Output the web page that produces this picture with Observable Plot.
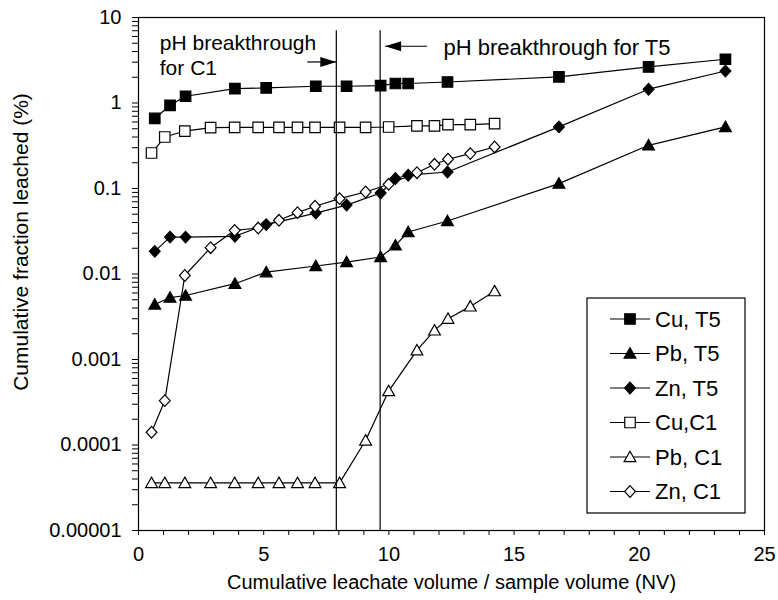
<!DOCTYPE html>
<html>
<head>
<meta charset="utf-8">
<script src="https://cdn.jsdelivr.net/npm/d3@7"></script>
<script src="https://cdn.jsdelivr.net/npm/@observablehq/plot@0.6"></script>
<style>
  body { margin: 0; background: #fff; }
  #chart { width: 778px; height: 600px; }
</style>
</head>
<body>
<div id="chart"></div>
<script>
// ---- data ----
const t5X = [0.65, 1.26, 1.88, 3.85, 5.1, 7.08, 8.31, 9.67, 10.26, 10.77, 12.34, 16.79, 20.37, 23.44];
const cuT5 = [0.66, 0.94, 1.2, 1.47, 1.5, 1.57, 1.57, 1.6, 1.69, 1.69, 1.76, 2.02, 2.64, 3.25];
const pbT5 = [0.0044, 0.0053, 0.0056, 0.0077, 0.0105, 0.0124, 0.0138, 0.0158, 0.0216, 0.031, 0.0417, 0.114, 0.32, 0.525];
const znT5 = [0.0184, 0.027, 0.027, 0.0276, 0.0378, 0.0516, 0.064, 0.0886, 0.131, 0.143, 0.156, 0.525, 1.45, 2.37];

const c1X = [0.52, 1.05, 1.85, 2.88, 3.84, 4.78, 5.61, 6.35, 7.05, 8.03, 9.07, 9.99, 11.12, 11.82, 12.36, 13.25, 14.22];
const cuC1 = [0.26, 0.40, 0.47, 0.516, 0.52, 0.52, 0.52, 0.52, 0.52, 0.52, 0.52, 0.524, 0.539, 0.539, 0.56, 0.56, 0.575];
const pbC1 = [0.000036, 0.000036, 0.000036, 0.000036, 0.000036, 0.000036, 0.000036, 0.000036, 0.000036, 0.000036, 0.000113, 0.000427, 0.00128, 0.00219, 0.0030, 0.00418, 0.0063];
const znC1 = [0.000141, 0.00033, 0.0096, 0.0203, 0.0324, 0.0345, 0.0425, 0.0522, 0.062, 0.0762, 0.091, 0.112, 0.153, 0.192, 0.22, 0.256, 0.306];

const seriesNames = ["Cu, T5", "Pb, T5", "Zn, T5", "Cu,C1", "Pb, C1", "Zn, C1"];

const xTickValues = [0, 5, 10, 15, 20, 25];
const xTickLabels = ["0", "5", "10", "15", "20", "25"];
const yTickValues = [1e-5, 1e-4, 1e-3, 1e-2, 1e-1, 1, 10];
const yTickLabels = ["0.00001", "0.0001", "0.001", "0.01", "0.1", "1", "10"];

const xLabel = "Cumulative leachate volume / sample volume (NV)";
const yLabel = "Cumulative fraction leached (%)";

// pH breakthrough markers
const breakthroughX = [7.9, 9.65];
const breakthroughTop = 7;
const annText = ["pH breakthrough", "for C1", "pH breakthrough for T5"];
const annX = [0.85, 0.85, 12.18];
const annY = [4.97, 2.53, 4.44];
const annSize = [21, 21, 22];
// arrows: tail x, tip x, y
const arrowC1 = {x1: 6.74, x2: 7.9, y: 3.02};
const arrowT5 = {x1: 11.53, x2: 9.85, y: 4.61};

// ---- symbols ----
const sym = {
  square: {draw(c) { c.rect(-5.25, -5.25, 10.5, 10.5); }},
  triangle: {draw(c) { c.moveTo(0, -5.8); c.lineTo(5.9, 4.6); c.lineTo(-5.9, 4.6); c.closePath(); }},
  diamond: {draw(c) { c.moveTo(0, -5.8); c.lineTo(5.4, 0); c.lineTo(0, 5.8); c.lineTo(-5.4, 0); c.closePath(); }},
  headRight: {draw(c) { c.moveTo(0, 0); c.lineTo(-16, -5); c.lineTo(-16, 5); c.closePath(); }},
  headLeft: {draw(c) { c.moveTo(0, 0); c.lineTo(16, -5); c.lineTo(16, 5); c.closePath(); }}
};

const seriesDefs = [
  {name: seriesNames[0], xs: t5X, ys: cuT5, symbol: sym.square, fill: "black"},
  {name: seriesNames[1], xs: t5X, ys: pbT5, symbol: sym.triangle, fill: "black"},
  {name: seriesNames[2], xs: t5X, ys: znT5, symbol: sym.diamond, fill: "black"},
  {name: seriesNames[3], xs: c1X, ys: cuC1, symbol: sym.square, fill: "white"},
  {name: seriesNames[4], xs: c1X, ys: pbC1, symbol: sym.triangle, fill: "white"},
  {name: seriesNames[5], xs: c1X, ys: znC1, symbol: sym.diamond, fill: "white"}
];
seriesDefs.forEach(s => { s.rows = s.xs.map((x, i) => ({x, y: s.ys[i], series: s.name})); });

const xMinor = d3.range(0, 26, 1);
const yMinor = [];
for (let e = -5; e <= 0; e++) for (let k = 1; k <= 9; k++) yMinor.push(+(k * Math.pow(10, e)).toPrecision(6));
yMinor.push(10);

const FONT = "'Liberation Sans', Arial, Helvetica, sans-serif";

const seriesMarks = seriesDefs.flatMap(s => [
  Plot.line(s.rows, {x: "x", y: "y", stroke: "black", strokeWidth: 1.2}),
  Plot.dot(s.rows, {x: "x", y: "y", symbol: s.symbol, fill: s.fill, stroke: "black", strokeWidth: 1.2})
]);

const annRows = annText.map((t, i) => ({t, x: annX[i], y: annY[i], s: annSize[i]}));

const chart = Plot.plot({
  width: 778,
  height: 600,
  marginLeft: 138,
  marginRight: 14,
  marginTop: 17,
  marginBottom: 70,
  style: {fontFamily: FONT, fontSize: "20px", color: "black", background: "white"},
  x: {domain: [0, 25]},
  y: {type: "log", domain: [1e-5, 10]},
  marks: [
    Plot.axisX({
      ticks: xMinor, tickSize: 5, tickPadding: 11,
      tickFormat: d => { const i = xTickValues.indexOf(d); return i >= 0 ? xTickLabels[i] : ""; },
      label: xLabel, labelAnchor: "center", labelArrow: "none", labelOffset: 58
    }),
    Plot.axisY({
      ticks: yMinor, tickSize: 6, tickPadding: 11,
      tickFormat: d => { const i = yTickValues.findIndex(v => Math.abs(v - d) / v < 1e-6); return i >= 0 ? yTickLabels[i] : ""; },
      label: null
    }),
    Plot.text([yLabel], {frameAnchor: "left", rotate: -90, dx: -117, dy: -32, fontSize: 21, textAnchor: "middle", lineAnchor: "middle"}),
    ...seriesMarks,
    Plot.ruleX(breakthroughX, {y1: breakthroughTop, y2: 1e-5, stroke: "black", strokeWidth: 1.2}),
    Plot.text(annRows.filter(d => d.s === 21), {x: "x", y: "y", text: "t", textAnchor: "start", lineAnchor: "middle", fontSize: 21}),
    Plot.text(annRows.filter(d => d.s === 22), {x: "x", y: "y", text: "t", textAnchor: "start", lineAnchor: "middle", fontSize: 22}),
    Plot.link([arrowC1, arrowT5], {x1: "x1", x2: "x2", y1: "y", y2: "y", stroke: "black", strokeWidth: 1.2}),
    Plot.dot([arrowC1], {x: "x2", y: "y", symbol: sym.headRight, fill: "black", stroke: "none"}),
    Plot.dot([arrowT5], {x: "x2", y: "y", symbol: sym.headLeft, fill: "black", stroke: "none"}),
    Plot.frame({stroke: "black", strokeWidth: 1.2})
  ]
});

// ---- legend box (drawn into the same SVG) ----
const svg = d3.select(chart);
const lg = svg.append("g").attr("transform", "translate(587,298)");
lg.append("rect").attr("width", 158).attr("height", 215).attr("fill", "white").attr("stroke", "black").attr("stroke-width", 1.2);
seriesDefs.forEach((s, i) => {
  const cy = 21 + i * 34.5;
  const row = lg.append("g").attr("transform", `translate(0,${cy})`);
  row.append("line").attr("x1", 23).attr("x2", 63).attr("stroke", "black").attr("stroke-width", 1.2);
  row.append("path").attr("transform", "translate(43,0)").attr("d", d3.symbol(s.symbol)())
    .attr("fill", s.fill).attr("stroke", "black").attr("stroke-width", 1.2);
  row.append("text").attr("x", 68).attr("dy", "0.35em").attr("font-size", 22)
    .attr("text-anchor", "start")
    .attr("font-family", FONT).attr("fill", "black").text(s.name);
});

document.getElementById("chart").append(chart);
</script>
</body>
</html>
